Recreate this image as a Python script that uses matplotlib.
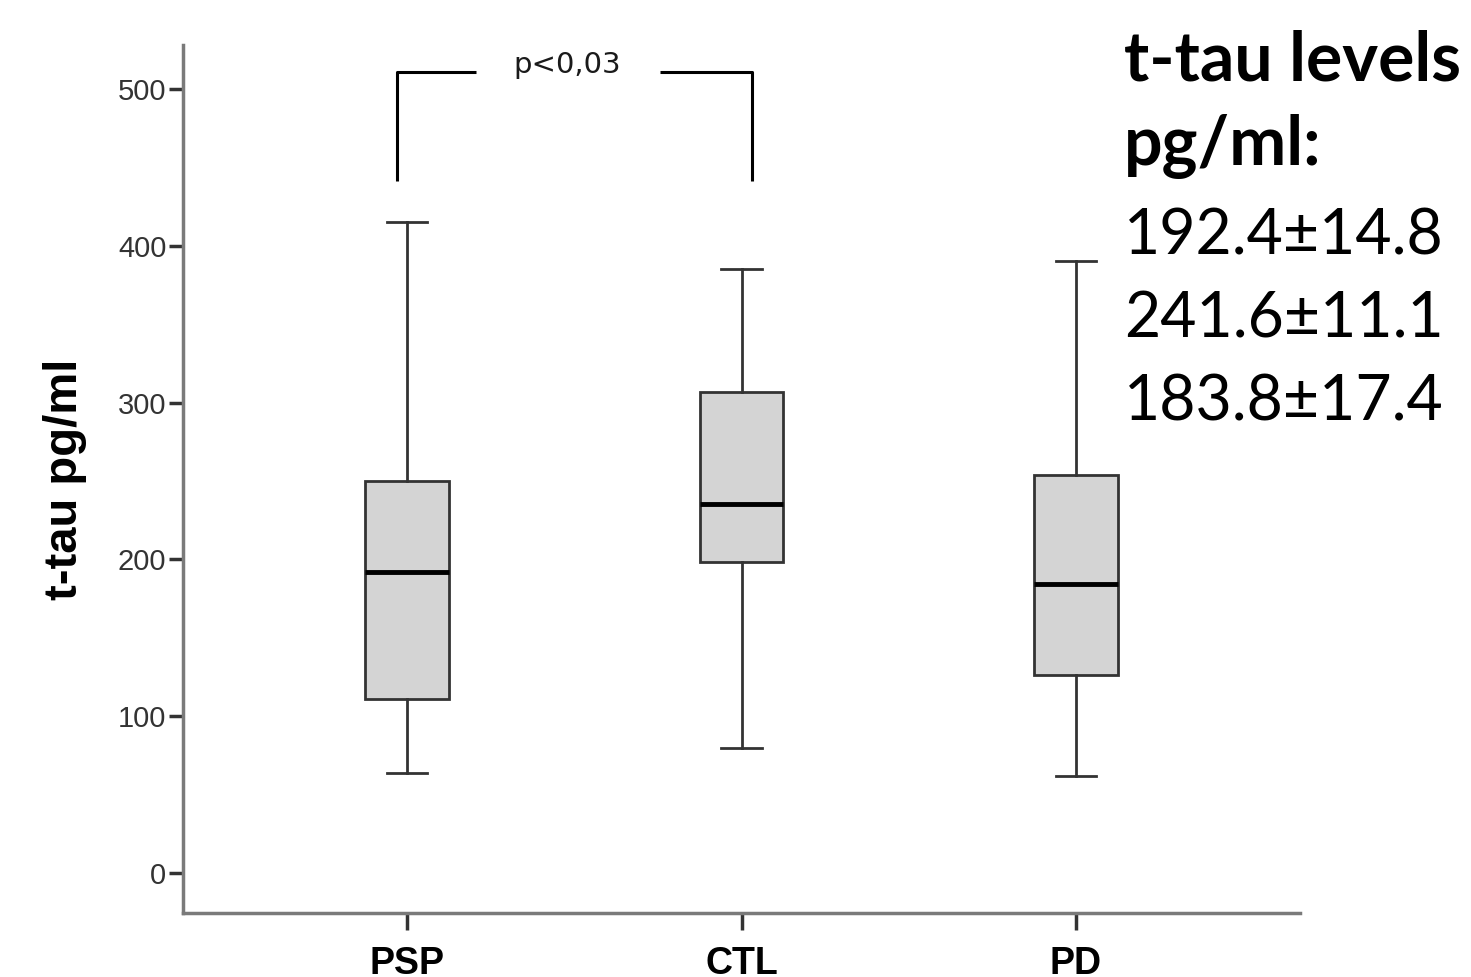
"""t-tau box plot by group (PSP / CTL / PD)."""

import matplotlib
matplotlib.use("Agg")
import matplotlib.pyplot as plt

# values (pg/ml)
groups = ["PSP", "CTL", "PD"]
whisker_low = [64, 80, 62]
q1 = [111, 198, 126]
median = [192, 235, 184]
q3 = [250, 307, 254]
whisker_high = [415, 385, 390]

mean_sem = ["192.4±14.8", "241.6±11.1", "183.8±17.4"]
y_ticks = [0, 100, 200, 300, 400, 500]

INK = "#1a1a1a"
SPINE = "#7a7a7a"
BOX_FILL = "#d4d4d4"

fig = plt.figure(figsize=(14.71, 9.77), dpi=100)
ax = fig.add_axes([0.1244, 0.0655, 0.7594, 0.8885])

stats = []
for i, g in enumerate(groups):
    stats.append({
        "label": g,
        "whislo": whisker_low[i],
        "q1": q1[i],
        "med": median[i],
        "q3": q3[i],
        "whishi": whisker_high[i],
        "fliers": [],
    })

ax.bxp(
    stats,
    positions=[1, 2, 3],
    widths=0.25,
    patch_artist=True,
    showfliers=False,
    boxprops=dict(facecolor=BOX_FILL, edgecolor="#333333", linewidth=2),
    medianprops=dict(color="black", linewidth=3.5),
    whiskerprops=dict(color="#333333", linewidth=2),
    capprops=dict(color="#333333", linewidth=2),
    capwidths=0.12,
)

ax.set_xlim(0.33, 3.67)
ax.set_ylim(-25.5, 528)
ax.set_yticks(y_ticks)
ax.set_yticklabels([str(v) for v in y_ticks], fontsize=21, family="Liberation Sans", color="#333333")
ax.set_xticks([1, 2, 3])
ax.set_xticklabels(groups, fontsize=27, fontweight="bold", family="Liberation Sans")
ax.tick_params(axis="y", length=10, width=2.5, color="#333333", pad=2)
ax.tick_params(axis="x", length=12, width=2.5, color="#333333", pad=12)

for side in ["top", "right"]:
    ax.spines[side].set_visible(False)
for side in ["left", "bottom"]:
    ax.spines[side].set_color(SPINE)
    ax.spines[side].set_linewidth(2.5)

ax.set_ylabel("t-tau pg/ml", fontsize=34, fontweight="bold", family="Liberation Sans", labelpad=22)

# significance bracket
yb, yt = 441, 511
ax.plot([0.97, 0.97, 1.205], [yb, yt, yt], color="black", lw=2.2, solid_capstyle="butt")
ax.plot([1.755, 2.03, 2.03], [yt, yt, yb], color="black", lw=2.2, solid_capstyle="butt")
ax.text(1.478, 515, "p<0,03", ha="center", va="center", fontsize=21, family="DejaVu Sans", color=INK)

# summary text at the right
fig.text(0.764, 0.918, "t-tau levels", fontsize=49, fontweight="bold", family="Lato", ha="left", va="baseline")
fig.text(0.764, 0.831, "pg/ml:", fontsize=49, fontweight="bold", family="Lato", ha="left", va="baseline")
for i, s in enumerate(mean_sem):
    fig.text(0.764, 0.739 - i * 0.0845, s, fontsize=45, family="Lato", ha="left", va="baseline")

fig.savefig("out.png", dpi=100, facecolor="white")
